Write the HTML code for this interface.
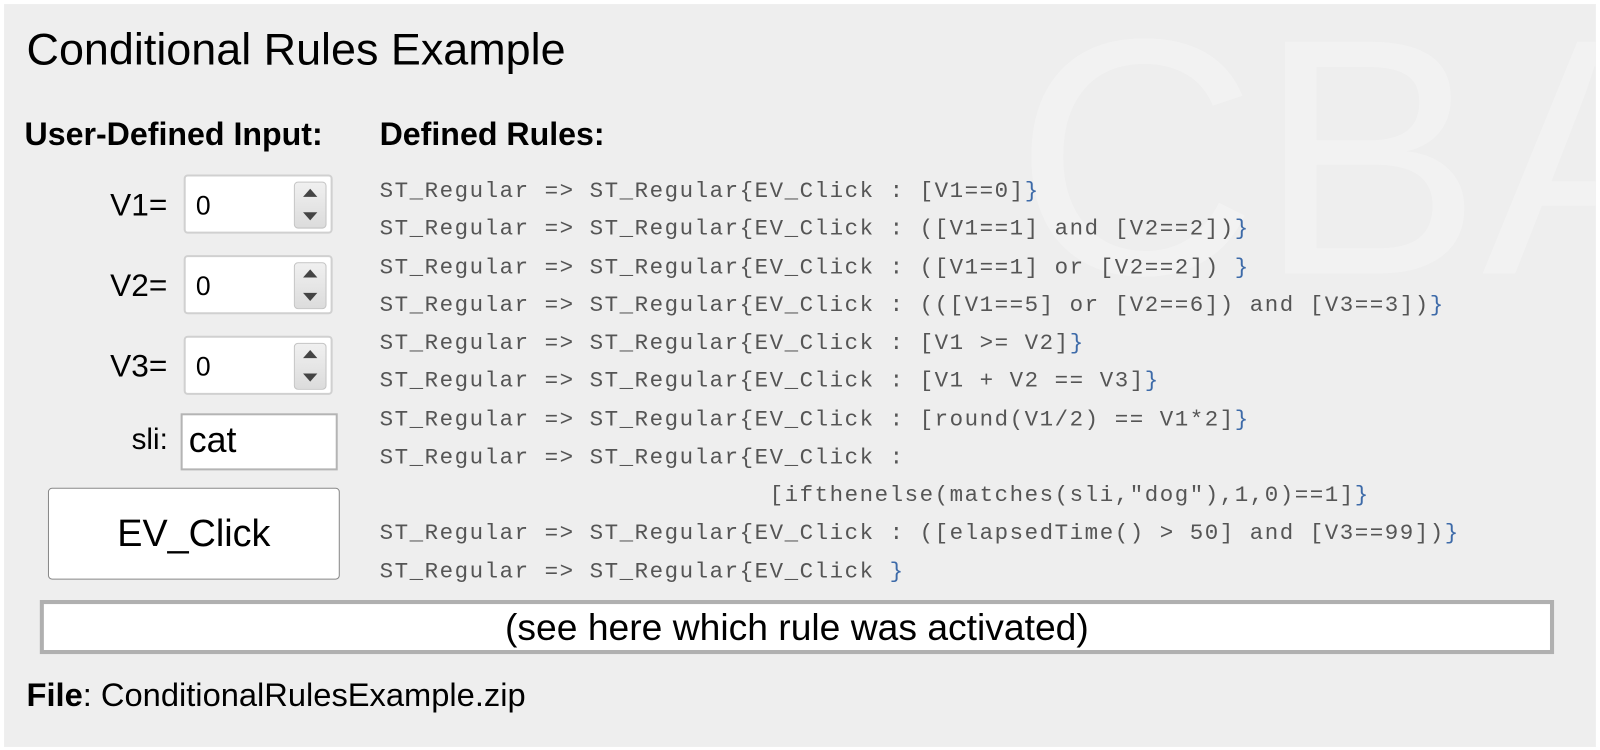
<!DOCTYPE html>
<html><head><meta charset="utf-8"><style>
body{margin:0;width:1600px;height:750px;background:#fff;position:relative;overflow:hidden;font-family:"Liberation Sans",Arial,sans-serif;color:#000}
#w{position:absolute;left:0;top:0;width:1568px;height:735px;transform:scale(1.0204);transform-origin:0 0}
#bg{position:absolute;left:4px;top:4px;width:1560px;height:728px;background:#eeeeee;overflow:hidden}
.a{position:absolute;white-space:nowrap}
.wm{position:absolute;color:#f2f2f2;font-size:330px;font-family:"Liberation Sans",sans-serif}
.lbl{position:absolute;font-size:31px;text-align:right;width:90px}
.spin{position:absolute;left:180px;width:146px;height:58px;background:#fff;border:2px solid #d0d0d0;border-radius:4px;box-sizing:border-box}
.spin span{position:absolute;left:10px;top:13px;font-size:26px}
.btns{position:absolute;right:4px;top:5px;width:30px;height:44px;border:1px solid #c4c4c4;border-radius:4px;background:linear-gradient(#f0f0f0,#dcdcdc)}
.btns:before{content:"";position:absolute;left:8px;top:6px;border:7px solid transparent;border-bottom:8px solid #444;border-top:0}
.btns:after{content:"";position:absolute;left:8px;bottom:7px;border:7px solid transparent;border-top:8px solid #444;border-bottom:0}
pre{position:absolute;left:372px;top:169px;margin:0;font-family:"Liberation Mono","Courier New",monospace;font-size:22px;letter-spacing:1.5px;line-height:37.25px;color:#555}
b.c{font-weight:normal;color:#3d6aa8}
</style></head><body>
<div id="w">
<div id="bg"><div class="wm" style="left:990px;top:-40px">CBA</div></div>
<div class="a" style="left:26px;top:24px;font-size:44px">Conditional Rules Example</div>
<div class="a" style="left:24px;top:113px;font-size:31.5px;font-weight:bold">User-Defined Input:</div>
<div class="a" style="left:372px;top:113px;font-size:31.5px;font-weight:bold">Defined Rules:</div>
<div class="lbl" style="left:74px;top:183px">V1=</div>
<div class="lbl" style="left:74px;top:262px">V2=</div>
<div class="lbl" style="left:74px;top:341px">V3=</div>
<div class="spin" style="top:171px"><span>0</span><div class="btns"></div></div>
<div class="spin" style="top:250px"><span>0</span><div class="btns"></div></div>
<div class="spin" style="top:329px"><span>0</span><div class="btns"></div></div>
<div class="a" style="left:129px;top:415px;font-size:29px">sli:</div>
<div class="a" style="left:177px;top:405px;width:154px;height:56px;box-sizing:border-box;border:2px solid #b4b4b4;background:#fff"><span style="position:absolute;left:6px;top:5px;font-size:35px">cat</span></div>
<div class="a" style="left:47px;top:478px;width:286px;height:90px;box-sizing:border-box;border:1px solid #888;border-radius:4px;background:#fff;font-size:37px;text-align:center;line-height:88px">EV_Click</div>
<pre>ST_Regular =&gt; ST_Regular{EV_Click : [V1==0]<b class="c">}</b>
ST_Regular =&gt; ST_Regular{EV_Click : ([V1==1] and [V2==2])<b class="c">}</b>
ST_Regular =&gt; ST_Regular{EV_Click : ([V1==1] or [V2==2]) <b class="c">}</b>
ST_Regular =&gt; ST_Regular{EV_Click : (([V1==5] or [V2==6]) and [V3==3])<b class="c">}</b>
ST_Regular =&gt; ST_Regular{EV_Click : [V1 &gt;= V2]<b class="c">}</b>
ST_Regular =&gt; ST_Regular{EV_Click : [V1 + V2 == V3]<b class="c">}</b>
ST_Regular =&gt; ST_Regular{EV_Click : [round(V1/2) == V1*2]<b class="c">}</b>
ST_Regular =&gt; ST_Regular{EV_Click :
                          [ifthenelse(matches(sli,"dog"),1,0)==1]<b class="c">}</b>
ST_Regular =&gt; ST_Regular{EV_Click : ([elapsedTime() &gt; 50] and [V3==99])<b class="c">}</b>
ST_Regular =&gt; ST_Regular{EV_Click <b class="c">}</b></pre>
<div class="a" style="left:39px;top:588px;width:1484px;height:53px;box-sizing:border-box;border:4px solid #b0b0b0;background:#fff;font-size:36.5px;text-align:center;line-height:45px">(see here which rule was activated)</div>
<div class="a" style="left:26px;top:663px;font-size:32px"><b>File</b>: ConditionalRulesExample.zip</div>
</div>
</body></html>
